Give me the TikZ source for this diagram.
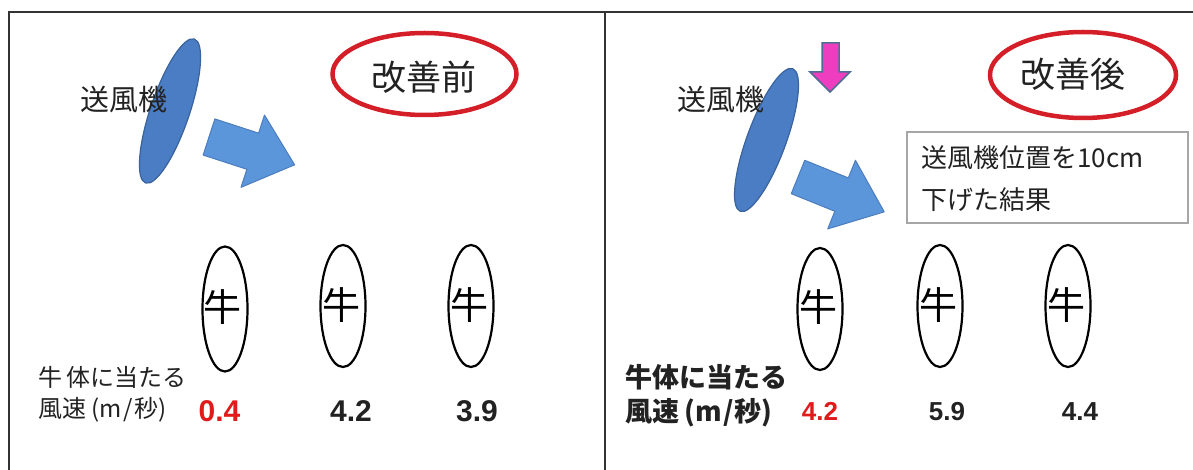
\documentclass[tikz,border=0pt]{standalone}
\usepackage{fontspec}
\setmainfont{Liberation Sans}
\newfontfamily\jp{Noto Sans CJK JP}
\usetikzlibrary{shapes.geometric}
\definecolor{framec}{HTML}{333333}
\definecolor{fanblue}{HTML}{4A7DC4}
\definecolor{fanedge}{HTML}{3A639E}
\definecolor{arrowblue}{HTML}{5B95DA}
\definecolor{arrowedge}{HTML}{4C7DBE}
\definecolor{pinkfill}{HTML}{EE3DBE}
\definecolor{pinkedge}{HTML}{4F6D93}
\definecolor{ringred}{HTML}{D41F28}
\definecolor{numred}{HTML}{E01B1B}
\definecolor{boxgray}{HTML}{A6A6A6}
\definecolor{textc}{HTML}{222222}
\newcommand{\myfs}[1]{\fontsize{#1pt}{#1pt}\selectfont}
\begin{document}
\begin{tikzpicture}[x=1pt,y=-1pt,
 frameline/.style={draw=framec,line width=2pt},
 fan/.style={ellipse,draw=fanedge,fill=fanblue,line width=1.2pt,minimum width=152pt,minimum height=39pt,inner sep=0pt},
 blockarrow/.style={draw=arrowedge,fill=arrowblue,line width=1pt,line join=round},
 ring/.style={ellipse,draw=ringred,line width=4.5pt,inner sep=0pt},
 ringtext/.style={inner sep=0pt,font=\jp\myfs{35},text=textc},
 cow/.style={ellipse,draw=black,line width=2.2pt,minimum width=45pt,inner sep=0pt},
 cowtext/.style={inner sep=0pt,font=\jp\myfs{38}},
 fantext/.style={inner sep=0pt,font=\jp\myfs{29},text=textc},
 numL/.style={inner sep=0pt,font=\bfseries\myfs{30}},
 numR/.style={inner sep=0pt,font=\bfseries\myfs{26}},
]
\useasboundingbox (0,0) rectangle (1193,470);
\fill[white] (0,0) rectangle (1193,470);

% frame
\coordinate (tl) at (8.5,12);
\coordinate (tr) at (1193,12);
\coordinate (bl) at (8.5,470);
\coordinate (tm) at (605,12);
\coordinate (bm) at (605,470);
\draw[frameline] (bl) -- (tl) -- (tr);
\draw[frameline] (tm) -- (bm);

% ===== left panel =====
\node[fan,rotate=71.3] (fanL) at (170,111) {};
\node[fantext,anchor=west] (fanLt) at (80,100) {送風機};
\begin{scope}[shift={(209,137)},rotate=-18]
\draw[blockarrow] (0,-19) -- (46,-19) -- (46,-38) -- (90,0) -- (46,38) -- (46,19) -- (0,19) -- cycle;
\end{scope}
\node[ring,minimum width=184pt,minimum height=82pt] (ringL) at (424.5,74) {};
\node[ringtext] (ringLt) at (424,77) {改善前};

\node[cow,minimum height=125pt] (cowL1) at (225,309) {};
\node[cowtext] (cowL1t) at (222,307) {牛};
\node[cow,minimum height=122pt] (cowL2) at (343,306) {};
\node[cowtext] (cowL2t) at (341,305) {牛};
\node[cow,minimum height=122pt] (cowL3) at (471,306) {};
\node[cowtext] (cowL3t) at (469,305) {牛};

\node[inner sep=0pt,anchor=west,font=\jp\myfs{24},text=textc] (labL1) at (38,377) {牛\,体に当たる};
\node[inner sep=0pt,anchor=west,font=\jp\myfs{24},text=textc] (labL2) at (38,410) {風速\hspace{5pt}(m\hspace{2pt}/\hspace{2pt}秒)};
\node[numL,text=numred] (vL1) at (219.5,411) {0.4};
\node[numL,text=textc] (vL2) at (351,411) {4.2};
\node[numL,text=textc] (vL3) at (477,411) {3.9};

% ===== right panel =====
\node[fan,rotate=69.8] (fanR) at (766.5,140) {};
\node[fantext,anchor=west] (fanRt) at (677,100) {送風機};
\begin{scope}[shift={(798,177)},rotate=-22]
\draw[blockarrow] (0,-18) -- (47,-18) -- (47,-37) -- (93,0) -- (47,37) -- (47,18) -- (0,18) -- cycle;
\end{scope}
\draw[draw=pinkedge,fill=pinkfill,line width=1.5pt,line join=miter]
 (822,43) -- (839,43) -- (839,72) -- (850,72) -- (830,92) -- (810,72) -- (822,72) -- cycle;

\node[ring,minimum width=186pt,minimum height=86pt] (ringR) at (1083,75) {};
\node[ringtext] (ringRt) at (1073,74) {改善後};

\node[draw=boxgray,line width=2.5pt,minimum width=281pt,minimum height=91pt,inner sep=0pt] (box) at (1047.5,177.5) {};
\node[inner sep=0pt,anchor=west,font=\jp\myfs{26},text=textc] (boxt1) at (921,158) {送風機位置を10cm};
\node[inner sep=0pt,anchor=west,font=\jp\myfs{26},text=textc] (boxt2) at (921,200) {下げた結果};

\node[cow,minimum height=122pt] (cowR1) at (820,309) {};
\node[cowtext] (cowR1t) at (818,307) {牛};
\node[cow,minimum height=122pt] (cowR2) at (940,306) {};
\node[cowtext] (cowR2t) at (938,305) {牛};
\node[cow,minimum height=122pt] (cowR3) at (1068,306) {};
\node[cowtext] (cowR3t) at (1066,305) {牛};

\node[inner sep=0pt,anchor=west,font=\jp\bfseries\myfs{27},text=textc] (labR1) at (625,377) {牛体に当たる};
\node[inner sep=0pt,anchor=west,font=\jp\bfseries\myfs{27},text=textc] (labR2) at (625,413) {風速\hspace{5pt}(m\hspace{1.5pt}/\hspace{1.5pt}秒)};
\node[numR,text=numred] (vR1) at (820,411) {4.2};
\node[numR,text=textc] (vR2) at (947,412) {5.9};
\node[numR,text=textc] (vR3) at (1080,412) {4.4};
\end{tikzpicture}
\end{document}
